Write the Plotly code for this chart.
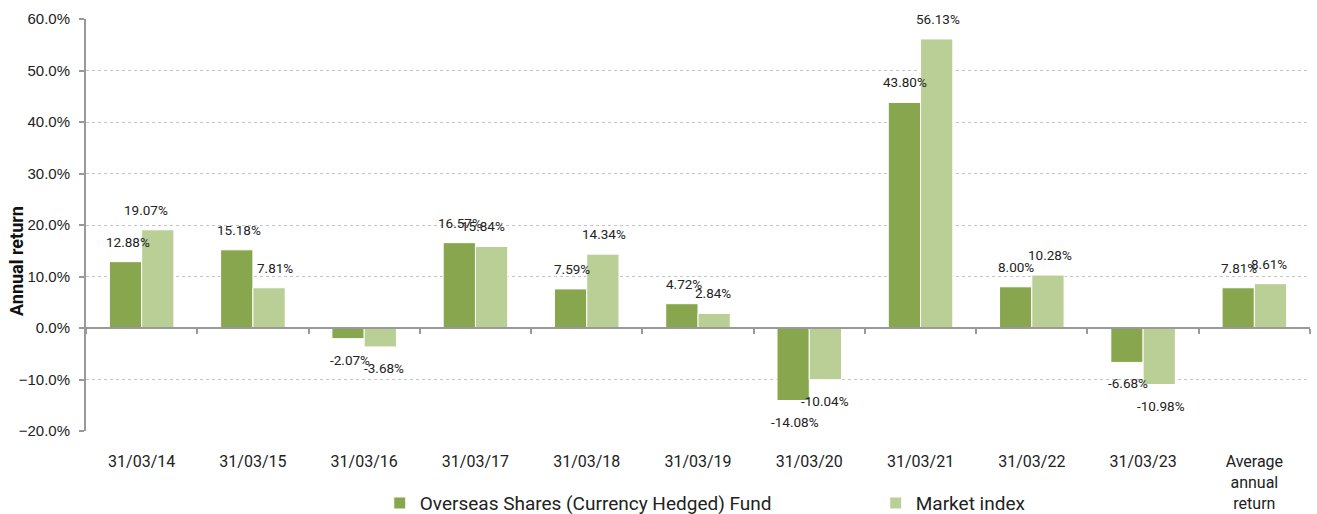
import plotly.graph_objects as go

categories = ["31/03/14", "31/03/15", "31/03/16", "31/03/17", "31/03/18", "31/03/19",
              "31/03/20", "31/03/21", "31/03/22", "31/03/23", "Average<br>annual<br>return"]
fund_pct = [12.88, 15.18, -2.07, 16.57, 7.59, 4.72, -14.08, 43.80, 8.00, -6.68, 7.81]
index_pct = [19.07, 7.81, -3.68, 15.84, 14.34, 2.84, -10.04, 56.13, 10.28, -10.98, 8.61]
series_names = ["Overseas Shares (Currency Hedged) Fund", "Market index"]
y_title = "Annual return"

# style: small horizontal nudges of individual labels (px), as in the original
fund_nudge = [2, 2, 2, 1, 1, 2, 2, 0, 0, 1, 1]
index_nudge = [-12, 6, 4, -8, 1, -1, 0, 1, 2, 2, -1]

FUND_C = "#88a64e"
INDEX_C = "#bacf96"

fund = [v / 100 for v in fund_pct]
index = [v / 100 for v in index_pct]
xs = list(range(len(categories)))

fig = go.Figure()
fig.add_trace(go.Bar(x=xs, y=fund, name=series_names[0], marker_color=FUND_C,
                     marker_line=dict(color="white", width=1)))
fig.add_trace(go.Bar(x=xs, y=index, name=series_names[1], marker_color=INDEX_C,
                     marker_line=dict(color="white", width=1)))
# invisible trace to hold the zero-crossing axis with tick marks
fig.add_trace(go.Scatter(x=[-0.5, 10.5], y=[0, 0], xaxis="x2", mode="lines",
                         line=dict(width=0), showlegend=False, hoverinfo="skip"))

ann = []
for i in xs:
    for vals, pct, sh, nud in ((fund, fund_pct, -16, fund_nudge), (index, index_pct, 16, index_nudge)):
        v = vals[i]
        ann.append(dict(x=i, y=v, xref="x", yref="y", text=f"{pct[i]:.2f}%",
                        showarrow=False, xshift=sh + nud[i], yshift=20 if v >= 0 else -21,
                        font=dict(family="Roboto", size=13.5, color="#222222")))
ann.append(dict(x=-0.0572, y=0.4126, xref="paper", yref="paper", text=f"<b>{y_title}</b>",
                textangle=-90, showarrow=False, xanchor="center", yanchor="middle",
                font=dict(family="Roboto", size=18, color="#111111")))

fig.update_layout(
    width=1317, height=514,
    margin=dict(l=86, r=7, t=19, b=83, autoexpand=False),
    plot_bgcolor="white", paper_bgcolor="white",
    barmode="group", bargap=0.42, bargroupgap=0,
    annotations=ann,
    xaxis=dict(type="linear", range=[-0.5, 10.5], tickvals=xs, ticktext=categories,
               showgrid=False, zeroline=False, showline=False, automargin=False,
               ticks="outside", ticklen=16, tickcolor="rgba(0,0,0,0)",
               tickfont=dict(family="Roboto", size=16, color="#222222")),
    xaxis2=dict(overlaying="x", anchor="free", position=0.25, range=[-0.5, 10.5],
                tickvals=[i + 0.5 for i in range(-1, 11)], showticklabels=False,
                ticks="outside", ticklen=5, tickwidth=2, tickcolor="#999999",
                showline=True, linecolor="#999999", linewidth=2, automargin=False,
                showgrid=False, zeroline=False),
    yaxis=dict(range=[-0.2, 0.6], dtick=0.1, tickformat=".1%", automargin=False,
               showgrid=True, gridcolor="#c4c4c4", griddash="dot", gridwidth=1,
               zeroline=False, showline=True, linecolor="#999999", linewidth=2,
               ticks="outside", ticklen=5, tickwidth=2, tickcolor="#999999",
               ticklabelstandoff=6,
               tickfont=dict(family="Liberation Sans", size=15, color="#222222")),
    legend=dict(orientation="h", x=0.240, xanchor="left", y=-0.129, yanchor="top",
                entrywidth=451, entrywidthmode="pixels", bgcolor="rgba(0,0,0,0)",
                font=dict(family="Roboto", size=19, color="#222222")),
)

fig.write_html("out.html", config={"displayModeBar": False},
               post_script="document.body.style.margin='0';document.body.style.overflow='hidden';")
